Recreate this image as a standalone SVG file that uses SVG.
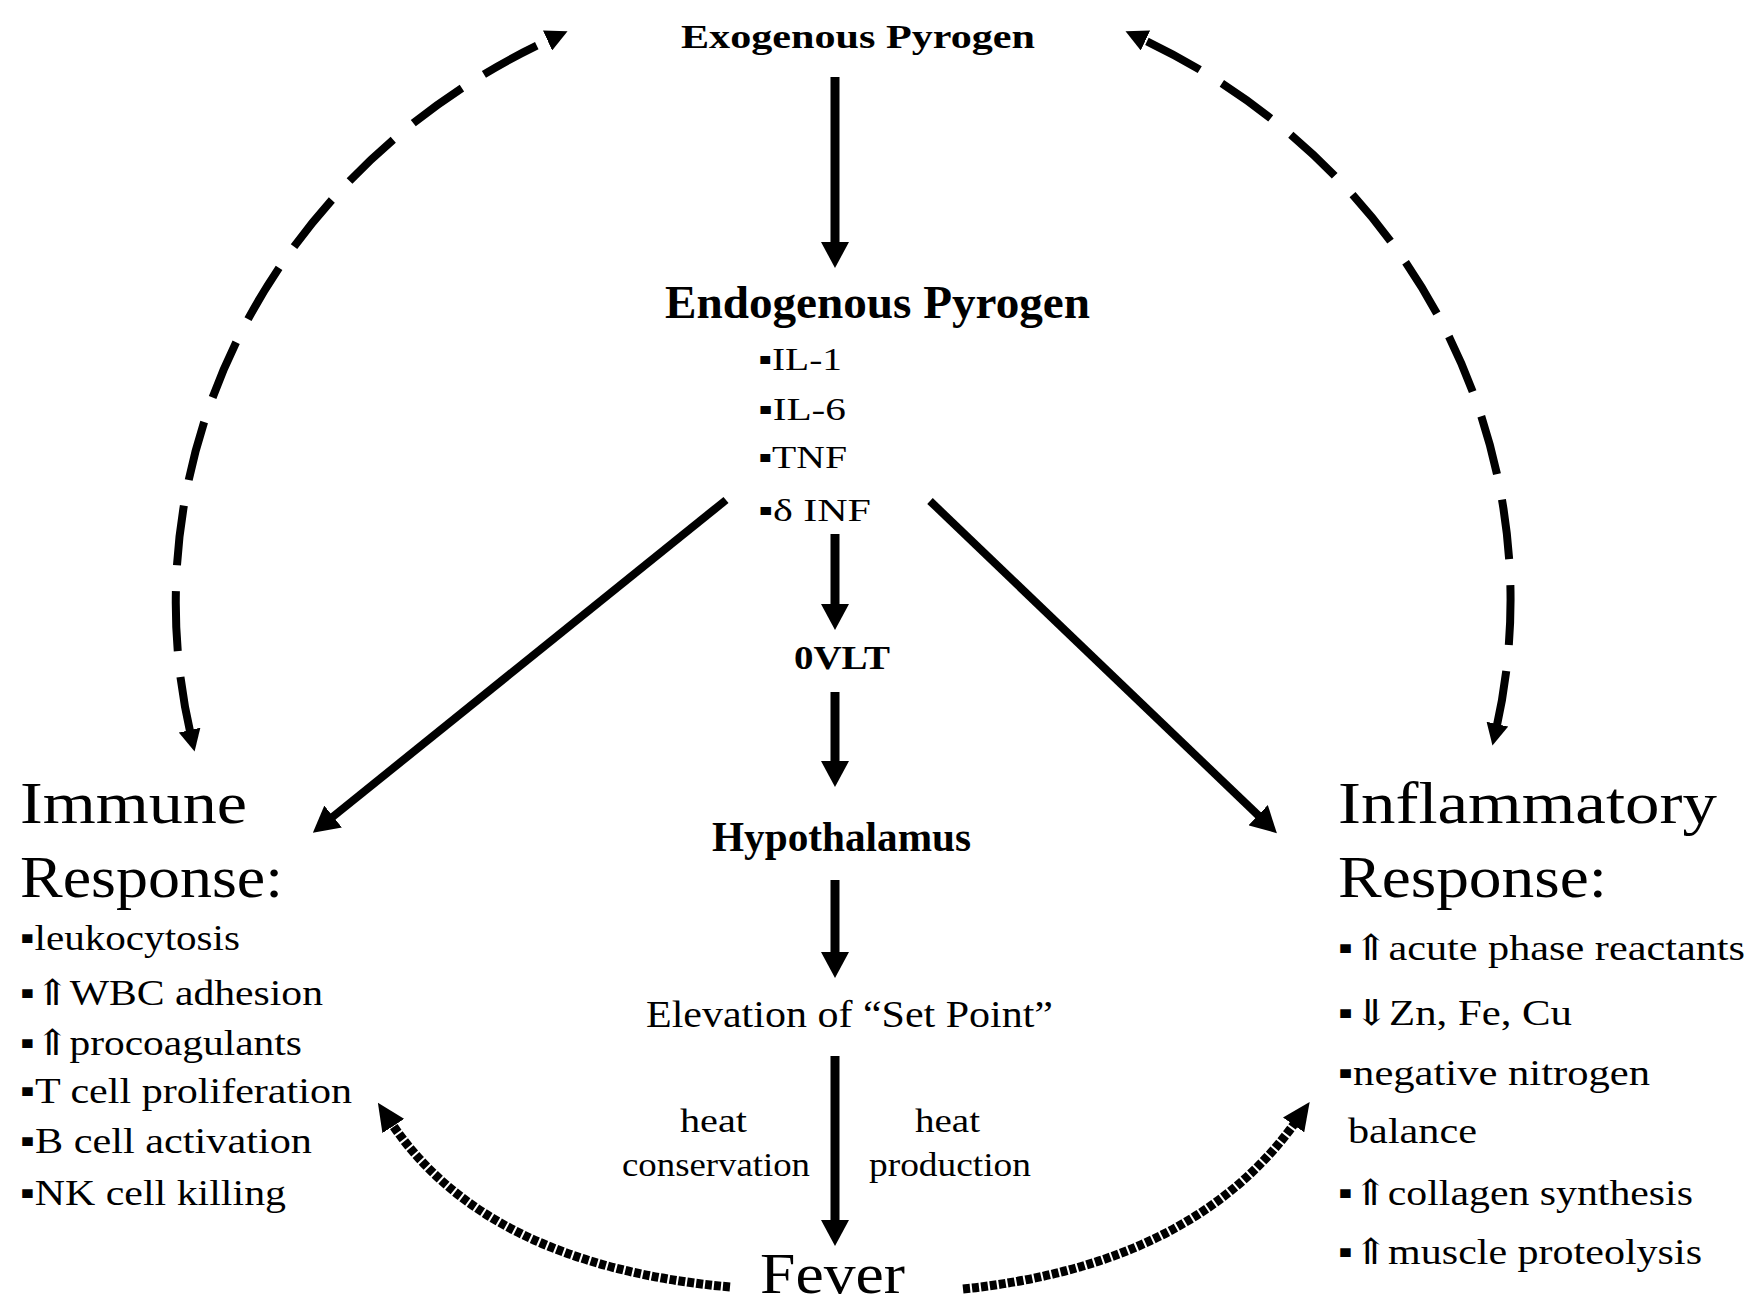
<svg xmlns="http://www.w3.org/2000/svg" width="1758" height="1304" viewBox="0 0 1758 1304">
<style>
text{font-family:"Liberation Serif","DejaVu Serif",serif;fill:#000}
.b{font-weight:bold}
.li{font-size:36px}
.hd{font-size:60px}
.sm{font-size:33px}
.solid{stroke:#000;stroke-width:9;fill:none}
.diag{stroke:#000;stroke-width:8;fill:none}
.dash{stroke:#000;stroke-width:8;fill:none;stroke-dasharray:60 26}
.dot{stroke:#000;stroke-width:9;fill:none;stroke-dasharray:7 2}
</style>
<defs>
<marker id="ah" viewBox="0 0 26 28" refX="4" refY="14" markerWidth="26" markerHeight="28" orient="auto" markerUnits="userSpaceOnUse"><path d="M0,0 L26,14 L0,28 Z" fill="#000"/></marker>
<marker id="dh" viewBox="0 0 22 22" refX="6" refY="11" markerWidth="22" markerHeight="22" orient="auto-start-reverse" markerUnits="userSpaceOnUse"><path d="M0,0 L22,11 L0,22 Z" fill="#000"/></marker>
<marker id="oh" viewBox="0 0 28 26" refX="6" refY="13" markerWidth="28" markerHeight="26" orient="auto" markerUnits="userSpaceOnUse"><path d="M0,0 L28,13 L0,26 Z" fill="#000"/></marker>
</defs>
<rect width="1758" height="1304" fill="#fff"/>
<g id="connectors">
<line class="solid" x1="835" y1="77" x2="835" y2="246" marker-end="url(#ah)"/>
<line class="solid" x1="835" y1="534" x2="835" y2="608" marker-end="url(#ah)"/>
<line class="solid" x1="835" y1="692" x2="835" y2="765" marker-end="url(#ah)"/>
<line class="solid" x1="835" y1="880" x2="835" y2="956" marker-end="url(#ah)"/>
<line class="solid" x1="835" y1="1056" x2="835" y2="1224" marker-end="url(#ah)"/>
<line class="diag" x1="726" y1="500" x2="330" y2="819" marker-end="url(#ah)"/>
<line class="diag" x1="930" y1="501" x2="1261" y2="818" marker-end="url(#ah)"/>
<path class="dash" d="M191,736 A670,628 0 0 1 553,38" marker-start="url(#dh)" marker-end="url(#dh)"/>
<path class="dash" d="M1496,730 A670,628 0 0 0 1140,38" marker-start="url(#dh)" marker-end="url(#dh)"/>
<path class="dot" d="M730,1287 Q485,1265 390,1121" marker-end="url(#oh)"/>
<path class="dot" d="M963,1289 Q1195,1265 1297,1120" marker-end="url(#oh)"/>
</g>
<g id="exogenous"><text class="b" x="681" y="48" font-size="34" textLength="354" lengthAdjust="spacingAndGlyphs">Exogenous Pyrogen</text></g>
<g id="endogenous">
<text class="b" x="665" y="318" font-size="46" textLength="425" lengthAdjust="spacingAndGlyphs">Endogenous Pyrogen</text>
<text x="758" y="370" font-size="32" textLength="84" lengthAdjust="spacingAndGlyphs">▪IL-1</text>
<text x="758" y="420" font-size="32" textLength="88" lengthAdjust="spacingAndGlyphs">▪IL-6</text>
<text x="758" y="468" font-size="32" textLength="89" lengthAdjust="spacingAndGlyphs">▪TNF</text>
<text x="758" y="521" font-size="32" textLength="113" lengthAdjust="spacingAndGlyphs">▪δ INF</text>
</g>
<g id="ovlt"><text class="b" x="794" y="669" font-size="34" textLength="96" lengthAdjust="spacingAndGlyphs">0VLT</text></g>
<g id="hypothalamus"><text class="b" x="712" y="851" font-size="42" textLength="259" lengthAdjust="spacingAndGlyphs">Hypothalamus</text></g>
<g id="setpoint"><text x="646" y="1027" font-size="37" textLength="407" lengthAdjust="spacingAndGlyphs">Elevation of “Set Point”</text></g>
<g id="heat-labels">
<text class="sm" x="680" y="1132" textLength="67" lengthAdjust="spacingAndGlyphs">heat</text>
<text class="sm" x="622" y="1176" textLength="188" lengthAdjust="spacingAndGlyphs">conservation</text>
<text class="sm" x="915" y="1132" textLength="65" lengthAdjust="spacingAndGlyphs">heat</text>
<text class="sm" x="869" y="1176" textLength="162" lengthAdjust="spacingAndGlyphs">production</text>
</g>
<g id="fever"><text x="760" y="1293" font-size="58" textLength="145" lengthAdjust="spacingAndGlyphs">Fever</text></g>
<g id="immune">
<text class="hd" x="20" y="823" textLength="227" lengthAdjust="spacingAndGlyphs">Immune</text>
<text class="hd" x="20" y="897" textLength="263" lengthAdjust="spacingAndGlyphs">Response:</text>
<text class="li" x="20" y="950" textLength="220" lengthAdjust="spacingAndGlyphs">▪leukocytosis</text>
<text class="li" x="20" y="1005" textLength="303" lengthAdjust="spacingAndGlyphs">▪⇑WBC adhesion</text>
<text class="li" x="20" y="1055" textLength="282" lengthAdjust="spacingAndGlyphs">▪⇑procoagulants</text>
<text class="li" x="20" y="1103" textLength="332" lengthAdjust="spacingAndGlyphs">▪T cell proliferation</text>
<text class="li" x="20" y="1153" textLength="292" lengthAdjust="spacingAndGlyphs">▪B cell activation</text>
<text class="li" x="20" y="1205" textLength="266" lengthAdjust="spacingAndGlyphs">▪NK cell killing</text>
</g>
<g id="inflammatory">
<text class="hd" x="1338" y="823" textLength="379" lengthAdjust="spacingAndGlyphs">Inflammatory</text>
<text class="hd" x="1338" y="897" textLength="269" lengthAdjust="spacingAndGlyphs">Response:</text>
<text class="li" x="1338" y="960" textLength="407" lengthAdjust="spacingAndGlyphs">▪⇑acute phase reactants</text>
<text class="li" x="1338" y="1025" textLength="234" lengthAdjust="spacingAndGlyphs">▪⇓Zn, Fe, Cu</text>
<text class="li" x="1338" y="1085" textLength="312" lengthAdjust="spacingAndGlyphs">▪negative nitrogen</text>
<text class="li" x="1348" y="1143" textLength="129" lengthAdjust="spacingAndGlyphs">balance</text>
<text class="li" x="1338" y="1205" textLength="355" lengthAdjust="spacingAndGlyphs">▪⇑collagen synthesis</text>
<text class="li" x="1338" y="1264" textLength="364" lengthAdjust="spacingAndGlyphs">▪⇑muscle proteolysis</text>
</g>
</svg>
